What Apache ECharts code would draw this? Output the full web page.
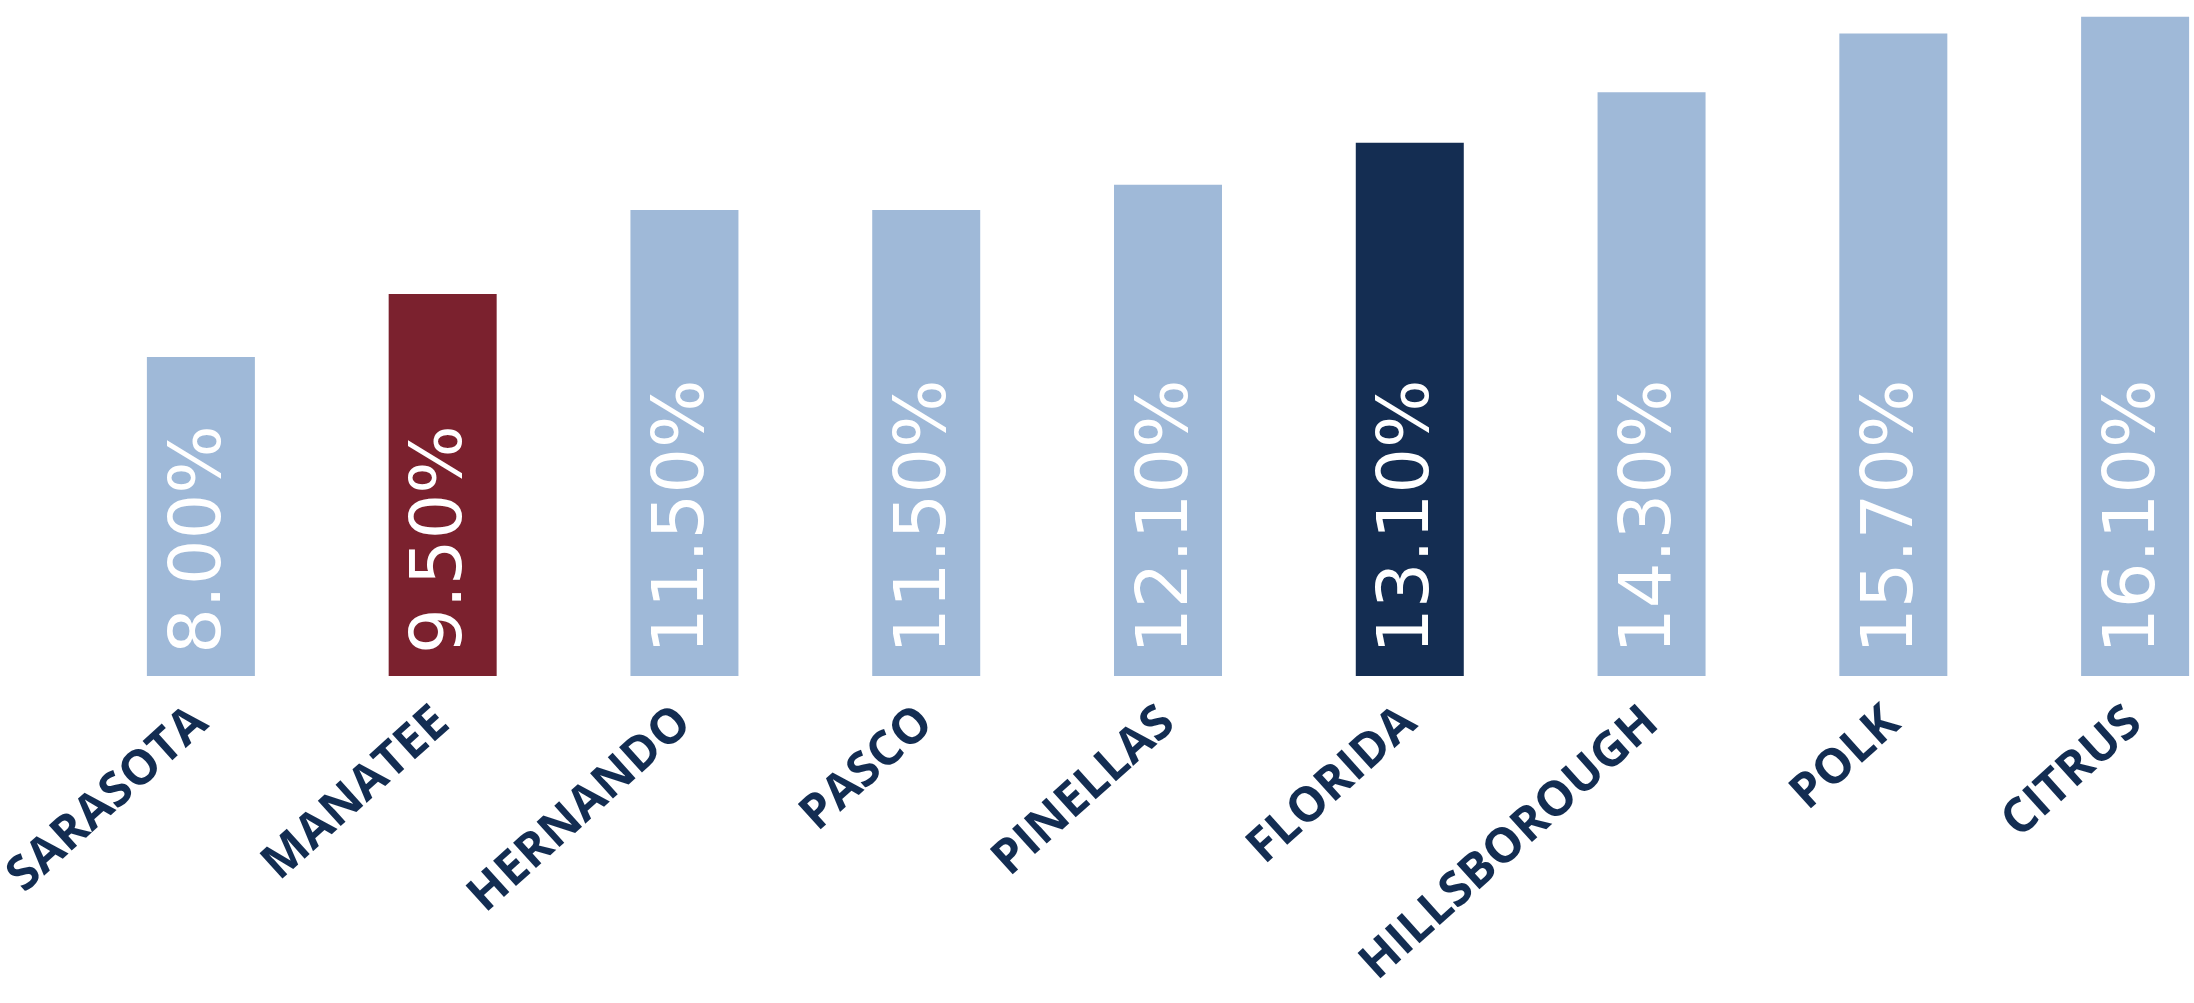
<!DOCTYPE html>
<html>
<head>
<meta charset="utf-8">
<script src="https://cdn.jsdelivr.net/npm/echarts@6/dist/echarts.min.js"></script>
<style>
html,body{margin:0;padding:0;background:#fff;}
#chart{width:2194px;height:1003px;}
</style>
</head>
<body>
<div id="chart"></div>
<script>
const categories = ['SARASOTA','MANATEE','HERNANDO','PASCO','PINELLAS','FLORIDA','HILLSBOROUGH','POLK','CITRUS'];
const values = [8.0, 9.5, 11.5, 11.5, 12.1, 13.1, 14.3, 15.7, 16.1];
const barColors = ['#9fb9d8','#7b212e','#9fb9d8','#9fb9d8','#9fb9d8','#142d52','#9fb9d8','#9fb9d8','#9fb9d8'];

const chart = echarts.init(document.getElementById('chart'));
chart.setOption({
  animation: false,
  backgroundColor: '#ffffff',
  grid: { left: 80, top: 0, width: 2176, bottom: 327, containLabel: false, outerBoundsMode: 'none' },
  xAxis: {
    type: 'category',
    data: categories,
    axisLine: { show: false },
    axisTick: { show: false },
    axisLabel: {
      rotate: 42,
      margin: 40,
      interval: 0,
      color: '#132d52',
      fontSize: 48,
      fontWeight: 'bold',
      fontFamily: 'Open Sans'
    }
  },
  yAxis: {
    type: 'value',
    min: 0.4,
    max: 16.5,
    show: false,
    splitLine: { show: false }
  },
  series: [{
    type: 'bar',
    barWidth: 108,
    data: values.map((v, i) => ({ value: v, itemStyle: { color: barColors[i] } })),
    label: {
      show: true,
      position: 'insideBottom',
      rotate: 90,
      align: 'left',
      verticalAlign: 'middle',
      distance: 22,
      color: '#ffffff',
      fontSize: 72,
      fontFamily: 'DejaVu Sans',
      formatter: p => p.value.toFixed(2) + '%'
    }
  }]
});
</script>
</body>
</html>
